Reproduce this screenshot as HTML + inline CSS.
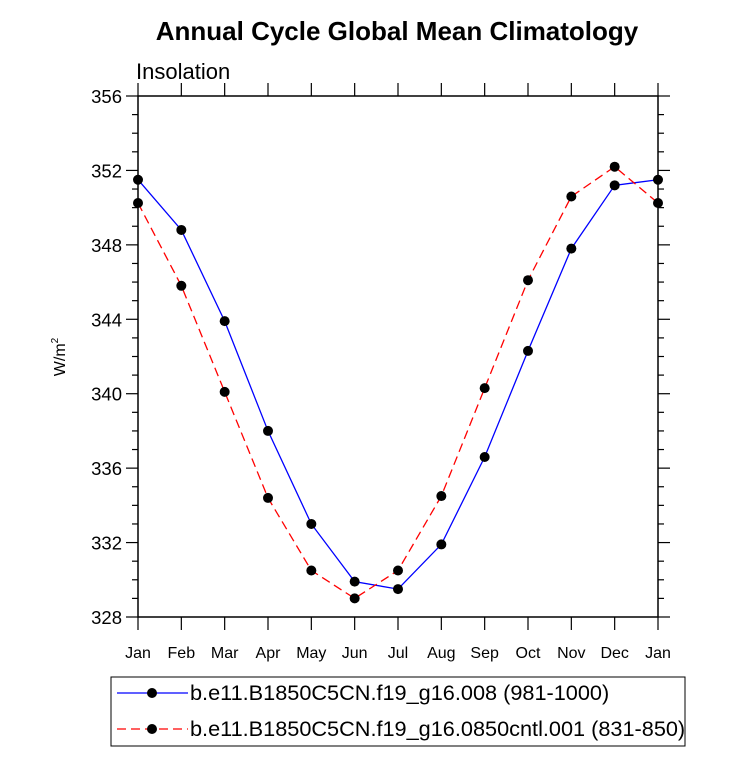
<!DOCTYPE html>
<html><head><meta charset="utf-8"><style>
body{margin:0;background:#fff;}
svg{display:block;font-family:"Liberation Sans",sans-serif;}
</style></head><body>
<svg id="chart" width="733" height="768">
<text x="397" y="40" text-anchor="middle" font-size="26" font-weight="bold">Annual Cycle Global Mean Climatology</text>
<text x="136" y="79" font-size="22">Insolation</text>
<g id="axes"></g>
<g id="series"></g>
<rect x="111" y="677" width="574" height="69" fill="none" stroke="#000" stroke-width="1"/>
<g>
<line x1="117" y1="693" x2="188" y2="693" stroke="#00f" stroke-width="1.2"/>
<circle cx="152" cy="693" r="5" fill="#000"/>
<text x="190" y="700" font-size="21.7">b.e11.B1850C5CN.f19_g16.008 (981-1000)</text>
</g>
<g>
<line x1="117" y1="729" x2="188" y2="729" stroke="#f00" stroke-width="1.2" stroke-dasharray="9,5"/>
<circle cx="152" cy="729" r="5" fill="#000"/>
<text x="190" y="736" font-size="21.7">b.e11.B1850C5CN.f19_g16.0850cntl.001 (831-850)</text>
</g>
</svg>
<script>
const months=["Jan","Feb","Mar","Apr","May","Jun","Jul","Aug","Sep","Oct","Nov","Dec","Jan"];
const blueValues=[351.5,348.8,343.9,338.0,333.0,329.9,329.5,331.9,336.6,342.3,347.8,351.2,351.5];
const redValues=[350.25,345.8,340.1,334.4,330.5,329.0,330.5,334.5,340.3,346.1,350.6,352.2,350.25];
const yTicks=[328,332,336,340,344,348,352,356];
const X0=138,X1=658,Y0=617,Y1=96,YMIN=328,YMAX=356;
const ns="http://www.w3.org/2000/svg";
function xs(i){return X0+(X1-X0)*i/(months.length-1);}
function ys(v){return Y0-(v-YMIN)/(YMAX-YMIN)*(Y0-Y1);}
function mk(t,a,p){const e=document.createElementNS(ns,t);for(const k in a)e.setAttribute(k,a[k]);p.appendChild(e);return e;}
const ax=document.getElementById('axes');
const fr=mk('rect',{x:X0,y:Y1,width:X1-X0,height:Y0-Y1,fill:'none',stroke:'#000','stroke-width':1.5},ax);


for(let v=YMIN;v<=YMAX;v++){
  const major=(v-YMIN)%4===0,L=major?12:6,y=ys(v);
  mk('line',{x1:X0-L,y1:y,x2:X0,y2:y,stroke:'#000','stroke-width':1.2},ax);
  mk('line',{x1:X1,y1:y,x2:X1+L,y2:y,stroke:'#000','stroke-width':1.2},ax);
}
yTicks.forEach(v=>{
  const t=mk('text',{x:X0-16,y:ys(v)+7,'text-anchor':'end','font-size':18.5},ax);
  t.textContent=v;
  
  
});
months.forEach((m,i)=>{
  const x=xs(i);
  mk('line',{x1:x,y1:Y0,x2:x,y2:Y0+13,stroke:'#000','stroke-width':1.2},ax);
  mk('line',{x1:x,y1:Y1-13,x2:x,y2:Y1,stroke:'#000','stroke-width':1.2},ax);
  const t=mk('text',{x:x,y:658,'text-anchor':'middle','font-size':16},ax);
  t.textContent=m;
  
  
});
const yt=mk('text',{transform:'translate(65,357) rotate(-90)','text-anchor':'middle','font-size':16},ax);
yt.innerHTML='W/m<tspan font-size="10" dy="-7">2</tspan>';


const sg=document.getElementById('series');
function series(vals,color,dash,name){
  const p=mk('polyline',{points:vals.map((v,i)=>xs(i)+','+ys(v)).join(' '),fill:'none',stroke:color,'stroke-width':1.3,'stroke-dasharray':dash},sg);
  
  
  vals.forEach((v,i)=>{
    const c=mk('circle',{cx:xs(i),cy:ys(v),r:5,fill:'#000'},sg);
    
    
  });
}
series(blueValues,'#00f','none','blue-series');
series(redValues,'#f00','9,5','red-series');
</script>
</body></html>
